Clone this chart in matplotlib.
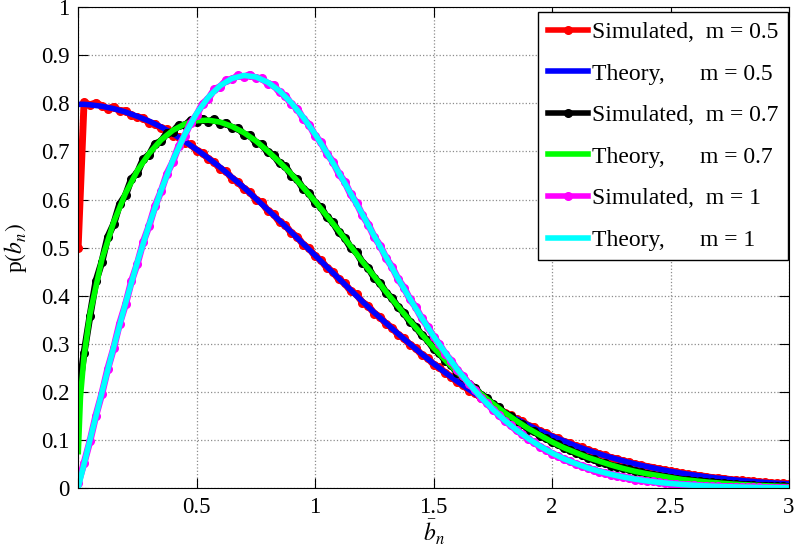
import numpy as np
import matplotlib
matplotlib.use('Agg')
import matplotlib.pyplot as plt

plt.rcParams['font.family'] = ['Liberation Serif', 'DejaVu Serif']
plt.rcParams['mathtext.fontset'] = 'stix'

##### data
# simulated histograms, sampled every 0.025
x_sim = np.round(np.arange(0, 121) * 0.025, 3)

sim_m05 = [0.500, 0.802, 0.797, 0.801, 0.795, 0.789, 0.793, 0.784, 0.785, 0.775,
           0.771, 0.770, 0.759, 0.758, 0.748, 0.746, 0.733, 0.731, 0.718, 0.715,
           0.702, 0.697, 0.684, 0.678, 0.663, 0.659, 0.643, 0.637, 0.622, 0.616,
           0.600, 0.594, 0.577, 0.570, 0.553, 0.547, 0.530, 0.523, 0.506, 0.499,
           0.482, 0.474, 0.458, 0.450, 0.434, 0.426, 0.410, 0.403, 0.386, 0.379,
           0.363, 0.356, 0.341, 0.334, 0.319, 0.312, 0.298, 0.291, 0.277, 0.271,
           0.257, 0.251, 0.239, 0.232, 0.220, 0.214, 0.203, 0.198, 0.187, 0.182,
           0.171, 0.167, 0.157, 0.152, 0.143, 0.139, 0.130, 0.127, 0.118, 0.115,
           0.107, 0.104, 0.097, 0.094, 0.087, 0.085, 0.079, 0.076, 0.071, 0.068,
           0.063, 0.061, 0.056, 0.054, 0.050, 0.048, 0.045, 0.043, 0.040, 0.038,
           0.035, 0.033, 0.031, 0.029, 0.027, 0.026, 0.024, 0.022, 0.021, 0.020,
           0.018, 0.017, 0.016, 0.015, 0.014, 0.013, 0.012, 0.011, 0.010, 0.010,
           0.009]

sim_m07 = [0.190, 0.281, 0.358, 0.430, 0.470, 0.522, 0.549, 0.590, 0.609, 0.643,
           0.656, 0.684, 0.693, 0.716, 0.721, 0.739, 0.741, 0.755, 0.754, 0.765,
           0.761, 0.768, 0.762, 0.767, 0.757, 0.760, 0.748, 0.749, 0.735, 0.734,
           0.718, 0.715, 0.698, 0.693, 0.675, 0.669, 0.650, 0.642, 0.622, 0.614,
           0.593, 0.584, 0.563, 0.553, 0.532, 0.521, 0.500, 0.490, 0.469, 0.458,
           0.437, 0.426, 0.406, 0.395, 0.376, 0.365, 0.346, 0.336, 0.318, 0.308,
           0.290, 0.281, 0.264, 0.256, 0.239, 0.231, 0.216, 0.209, 0.194, 0.188,
           0.174, 0.168, 0.155, 0.150, 0.138, 0.133, 0.122, 0.118, 0.108, 0.104,
           0.095, 0.091, 0.083, 0.080, 0.073, 0.069, 0.063, 0.060, 0.055, 0.052,
           0.047, 0.045, 0.041, 0.039, 0.035, 0.033, 0.030, 0.028, 0.025, 0.024,
           0.021, 0.020, 0.018, 0.017, 0.015, 0.014, 0.013, 0.012, 0.011, 0.010,
           0.009, 0.008, 0.0075, 0.007, 0.006, 0.0055, 0.005, 0.0045, 0.004, 0.004,
           0.0035]

sim_m1 = [0.010, 0.052, 0.098, 0.151, 0.196, 0.248, 0.291, 0.342, 0.382, 0.430,
          0.467, 0.512, 0.546, 0.587, 0.617, 0.654, 0.679, 0.712, 0.733, 0.760,
          0.776, 0.799, 0.810, 0.829, 0.835, 0.848, 0.850, 0.858, 0.855, 0.860,
          0.852, 0.852, 0.841, 0.838, 0.823, 0.816, 0.798, 0.789, 0.768, 0.756,
          0.733, 0.719, 0.695, 0.679, 0.654, 0.637, 0.611, 0.593, 0.567, 0.548,
          0.522, 0.504, 0.478, 0.460, 0.435, 0.417, 0.393, 0.376, 0.353, 0.336,
          0.315, 0.299, 0.279, 0.265, 0.246, 0.233, 0.216, 0.204, 0.188, 0.177,
          0.163, 0.153, 0.140, 0.131, 0.120, 0.112, 0.102, 0.095, 0.086, 0.080,
          0.072, 0.067, 0.060, 0.056, 0.050, 0.047, 0.042, 0.038, 0.034, 0.032,
          0.028, 0.026, 0.023, 0.021, 0.018, 0.017, 0.015, 0.014, 0.012, 0.011,
          0.0095, 0.0086, 0.0075, 0.0068, 0.0060, 0.0053, 0.0047, 0.0042, 0.0037, 0.0032,
          0.0029, 0.0025, 0.0022, 0.0019, 0.0017, 0.0015, 0.0013, 0.0011, 0.0010, 0.0009,
          0.0007]

# theory curves
x_th = np.concatenate([[0.001, 0.01, 0.025], np.round(np.arange(1, 61) * 0.05, 2)])

th_m05 = [0.798, 0.798, 0.798,
          0.797, 0.794, 0.789, 0.782, 0.773, 0.763, 0.751, 0.737, 0.721, 0.704,
          0.686, 0.667, 0.646, 0.625, 0.602, 0.579, 0.556, 0.532, 0.508, 0.484,
          0.460, 0.436, 0.412, 0.388, 0.365, 0.343, 0.321, 0.300, 0.279, 0.259,
          0.240, 0.222, 0.205, 0.188, 0.173, 0.158, 0.144, 0.131, 0.119, 0.108,
          0.098, 0.088, 0.079, 0.071, 0.0635, 0.0567, 0.0504, 0.0448, 0.0397, 0.0351,
          0.0309, 0.0272, 0.0238, 0.0208, 0.0182, 0.0158, 0.0137, 0.0119, 0.0103, 0.0089]

th_m07 = [0.076, 0.190, 0.274,
          0.362, 0.475, 0.553, 0.613, 0.660, 0.696, 0.724, 0.744, 0.757, 0.764,
          0.765, 0.761, 0.752, 0.739, 0.722, 0.701, 0.678, 0.653, 0.625, 0.596,
          0.566, 0.535, 0.503, 0.471, 0.440, 0.408, 0.378, 0.348, 0.320, 0.292,
          0.266, 0.241, 0.218, 0.196, 0.176, 0.157, 0.140, 0.124, 0.110, 0.096,
          0.084, 0.074, 0.064, 0.056, 0.048, 0.041, 0.035, 0.030, 0.026, 0.022,
          0.018, 0.0155, 0.013, 0.011, 0.009, 0.0075, 0.0062, 0.0051, 0.0042, 0.0034]

th_m1 = [0.002, 0.020, 0.050,
         0.100, 0.198, 0.293, 0.384, 0.470, 0.548, 0.619, 0.682, 0.735, 0.779,
         0.813, 0.837, 0.852, 0.858, 0.855, 0.844, 0.826, 0.801, 0.771, 0.736,
         0.697, 0.656, 0.613, 0.569, 0.524, 0.480, 0.436, 0.394, 0.354, 0.316,
         0.281, 0.247, 0.217, 0.189, 0.164, 0.141, 0.121, 0.103, 0.087, 0.073,
         0.061, 0.051, 0.042, 0.035, 0.0285, 0.0232, 0.0188, 0.0151, 0.0121, 0.0097,
         0.0076, 0.0060, 0.0047, 0.0037, 0.0029, 0.0022, 0.0017, 0.0013, 0.0010, 0.0007]

xticks = [0, 0.5, 1, 1.5, 2, 2.5, 3]
xticklabels = ['', '0.5', '1', '1.5', '2', '2.5', '3']
yticks = [0, 0.1, 0.2, 0.3, 0.4, 0.5, 0.6, 0.7, 0.8, 0.9, 1]
yticklabels = ['0', '0.1', '0.2', '0.3', '0.4', '0.5', '0.6', '0.7', '0.8', '0.9', '1']

##### plotting
fig = plt.figure(figsize=[7.97, 5.51], dpi=100)
ax = fig.add_axes([0.098, 0.114, 0.892, 0.873])

ax.plot(x_sim, sim_m05, '.-', color=(1, 0, 0), lw=5, ms=11, label='Simulated,  m = 0.5')
ax.plot(x_th, th_m05, '-', color=(0, 0, 1), lw=4, label='Theory,      m = 0.5')
ax.plot(x_sim, sim_m07, '.-', color=(0, 0, 0), lw=5, ms=11, label='Simulated,  m = 0.7')
ax.plot(x_th, th_m07, '-', color=(0, 1, 0), lw=4, label='Theory,      m = 0.7')
ax.plot(x_sim, sim_m1, '.-', color=(1, 0, 1), lw=5, ms=11, label='Simulated,  m = 1')
ax.plot(x_th, th_m1, '-', color=(0, 1, 1), lw=4, label='Theory,      m = 1')

ax.set_xlim(0, 3)
ax.set_ylim(0, 1)
ax.set_xticks(xticks)
ax.set_xticklabels(xticklabels)
ax.set_yticks(yticks)
ax.set_yticklabels(yticklabels)
ax.tick_params(direction='in', top=True, right=True, labelsize=16.5, length=7, pad=6)
ax.grid(True, linestyle=':', color='0.55', lw=0.9)
ax.set_axisbelow(True)

ax.set_xlabel(r'$\bar{b}_n$', fontsize=17, labelpad=0)
ax.set_ylabel(r'p$(\bar{b}_n)$', fontsize=17, labelpad=8)

leg = ax.legend(loc='upper right', bbox_to_anchor=(0.999, 0.99), fontsize=17,
                fancybox=False, framealpha=1, edgecolor='black',
                handlelength=1.7, handletextpad=0.2, labelspacing=0.85,
                borderaxespad=0, borderpad=0.4)
leg.get_frame().set_linewidth(1.0)
for h in leg.get_lines():
    h.set_linewidth(4)

plt.savefig('out.png', dpi=100)
